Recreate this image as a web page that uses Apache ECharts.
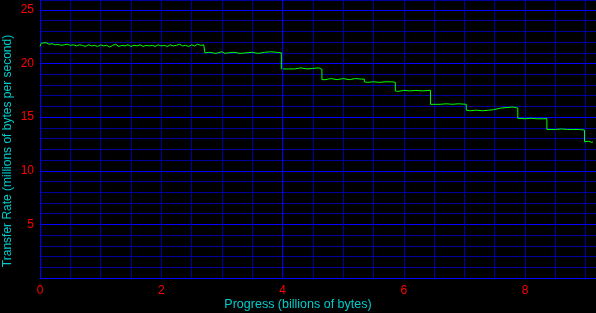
<!DOCTYPE html>
<html>
<head>
<meta charset="utf-8">
<script src="https://cdn.jsdelivr.net/npm/echarts@6/dist/echarts.min.js"></script>
<style>html,body{margin:0;padding:0;background:#000;}#c{width:596px;height:313px;}</style>
</head>
<body>
<div id="c"></div>
<script>
var xTitle = 'Progress (billions of bytes)';
var yTitle = 'Transfer Rate (millions of bytes per second)';
var xLabels = [0, 2, 4, 6, 8];
var yLabels = [5, 10, 15, 20, 25];
var progress = [
0,0.02,0.05,0.1,0.15,0.2,0.25,0.3,0.35,0.4,0.45,0.5,0.55,0.6,0.65,0.7,0.75,0.8,0.85,0.9,0.95,1.0,1.05,1.1,1.15,1.2,1.25,1.3,1.35,1.4,1.45,1.5,1.55,1.6,1.65,1.7,1.75,1.8,1.85,1.9,1.95,2.0,2.05,2.1,2.15,2.2,2.25,2.3,2.35,2.4,2.45,2.5,2.55,2.6,2.65,2.7,2.72,
2.72,2.75,2.8,2.9,3.0,3.05,3.1,3.2,3.3,3.4,3.5,3.6,3.7,3.8,3.9,3.98,
3.98,4.1,4.2,4.3,4.4,4.5,4.6,4.65,
4.65,4.7,4.8,4.9,5.0,5.1,5.2,5.3,5.35,
5.35,5.4,5.5,5.6,5.7,5.8,5.86,
5.86,5.9,6.0,6.1,6.2,6.3,6.44,
6.44,6.5,6.6,6.7,6.8,6.9,7.03,
7.03,7.1,7.2,7.3,7.4,7.48,
7.48,7.6,7.7,7.8,7.88,
7.88,8.0,8.1,8.2,8.3,8.36,
8.36,8.5,8.6,8.7,8.8,8.9,8.98,
8.98,9.0,9.05,9.1,9.12
];
var rate = [
21.6,21.9,21.8,21.95,21.8,21.85,21.75,21.8,21.7,21.75,21.8,21.7,21.75,21.65,21.75,21.7,21.6,21.75,21.65,21.7,21.6,21.75,21.65,21.7,21.55,21.7,21.8,21.6,21.7,21.65,21.75,21.6,21.7,21.65,21.75,21.6,21.7,21.65,21.7,21.6,21.75,21.65,21.7,21.6,21.75,21.65,21.7,21.8,21.65,21.7,21.6,21.75,21.65,21.8,21.7,21.75,21.7,
21.0,20.95,21.05,20.95,21.1,20.95,21.0,21.05,20.95,21.0,21.05,20.95,21.05,21.1,21.05,21.0,
19.5,19.5,19.5,19.6,19.5,19.55,19.6,19.45,
18.5,18.5,18.6,18.5,18.6,18.5,18.6,18.55,18.55,
18.3,18.25,18.3,18.25,18.3,18.3,18.25,
17.45,17.4,17.5,17.45,17.5,17.45,17.5,
16.2,16.2,16.2,16.25,16.2,16.25,16.2,
15.65,15.6,15.65,15.6,15.65,15.7,
15.85,15.85,15.9,15.95,15.85,
14.9,14.85,14.9,14.85,14.85,14.87,
13.85,13.85,13.9,13.85,13.85,13.85,13.8,
12.7,12.65,12.75,12.65,12.7
];
var data = progress.map(function (x, i) { return [x, rate[i]]; });

var BRIGHT = '#0000ff', DIM = '#00009c', FONT = 'Liberation Sans', CYAN = '#00cccc';
var chart = echarts.init(document.getElementById('c'));
chart.setOption({
  backgroundColor: '#000',
  animation: false,
  grid: { left: 40, right: 0, top: 0, bottom: 35, containLabel: false, outerBoundsMode: 'none' },
  graphic: [
    { type: 'text', x: 298, y: 305, silent: true,
      style: { text: xTitle, fill: CYAN, font: '12.5px "Liberation Sans"', textAlign: 'center', textVerticalAlign: 'middle' } },
    { type: 'text', x: 8, y: 151, rotation: Math.PI / 2, silent: true,
      style: { text: yTitle, fill: CYAN, font: '12px "Liberation Sans"', textAlign: 'center', textVerticalAlign: 'middle' } }
  ],
  xAxis: {
    type: 'value', min: 0, max: 9.17, interval: 0.5,
    axisLine: { show: true, lineStyle: { color: BRIGHT, width: 1 } },
    axisTick: { show: false },
    axisLabel: {
      color: '#ff0000', fontFamily: FONT, fontSize: 12, margin: 7, showMaxLabel: false,
      formatter: function (v) { return xLabels.indexOf(v) >= 0 ? String(v) : ''; }
    },
    splitLine: { show: true, lineStyle: { color: DIM, width: 1 } }
  },
  yAxis: {
    type: 'value', min: 0, max: 25.93, interval: 1,
    axisLine: { show: true, lineStyle: { color: BRIGHT, width: 1 } },
    axisTick: { show: false },
    axisLabel: {
      color: '#ff0000', fontFamily: FONT, fontSize: 12, margin: 6, showMaxLabel: false,
      formatter: function (v) { return yLabels.indexOf(v) >= 0 ? String(v) : ''; }
    },
    splitLine: { show: true, lineStyle: { color: [BRIGHT, DIM, DIM, DIM, DIM], width: 1 } }
  },
  series: [{
    type: 'line', data: data, symbol: 'none',
    lineStyle: { color: '#00ff00', width: 1 },
    markLine: {
      silent: true, symbol: 'none', label: { show: false },
      lineStyle: { color: BRIGHT, width: 1, type: 'solid' },
      data: [{ xAxis: 4 }]
    }
  }]
});
</script>
</body>
</html>
